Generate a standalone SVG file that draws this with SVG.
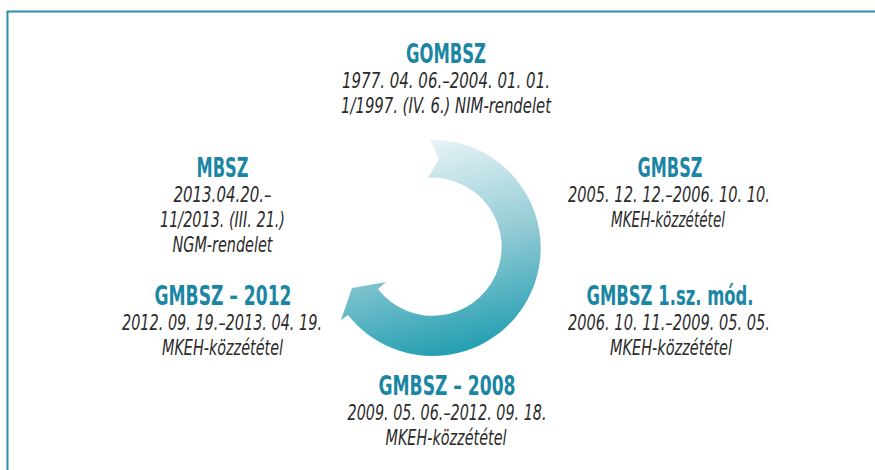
<svg xmlns="http://www.w3.org/2000/svg" width="875" height="470" viewBox="0 0 875 470">
<defs>
<linearGradient id="g" gradientUnits="userSpaceOnUse" x1="410" y1="140" x2="462" y2="356">
<stop offset="0" stop-color="#eaf5f7"/>
<stop offset="0.5" stop-color="#93cbd5"/>
<stop offset="1" stop-color="#1f9db0"/>
</linearGradient>
<style>
.t{font-family:"Liberation Sans Narrow","DejaVu Sans Condensed","Liberation Sans",sans-serif;font-weight:bold;font-size:27px;fill:#1a86a4;text-anchor:middle}
.b{font-family:"Liberation Sans Narrow","DejaVu Sans Condensed","Liberation Sans",sans-serif;font-style:italic;font-size:22px;fill:#2b2b2b;text-anchor:middle}
.frame{fill:none;stroke:#2a8fae;stroke-width:2}
</style>
</defs>
<rect width="875" height="470" fill="#fff"/>
<path class="frame" d="M875 11.5 H7.5 V470"/>
<g id="cycle">
<path d="M430 140 A108 108 0 1 1 348 315 L341 320 L352 288 L386 282 L378 289 A69 69 0 1 0 428 178 L439 159 Z" fill="url(#g)"/>
</g>
<g id="connectors"/>
<g id="gombsz">
<text class="t" x="446" y="63" textLength="80" lengthAdjust="spacingAndGlyphs">GOMBSZ</text>
<text class="b" x="446" y="88" textLength="208" lengthAdjust="spacingAndGlyphs">1977. 04. 06.–2004. 01. 01.</text>
<text class="b" x="446" y="113" textLength="210" lengthAdjust="spacingAndGlyphs">1/1997. (IV. 6.) NIM-rendelet</text>
</g>
<g id="mbsz">
<text class="t" x="222.5" y="176.5" textLength="52" lengthAdjust="spacingAndGlyphs">MBSZ</text>
<text class="b" x="222.5" y="201.5" textLength="98" lengthAdjust="spacingAndGlyphs">2013.04.20.–</text>
<text class="b" x="222.5" y="226.5" textLength="125" lengthAdjust="spacingAndGlyphs">11/2013. (III. 21.)</text>
<text class="b" x="222.5" y="251.5" textLength="100" lengthAdjust="spacingAndGlyphs">NGM-rendelet</text>
</g>
<g id="gmbsz">
<text class="t" x="670" y="176.5" textLength="65" lengthAdjust="spacingAndGlyphs">GMBSZ</text>
<text class="b" x="669" y="201.5" textLength="202" lengthAdjust="spacingAndGlyphs">2005. 12. 12.–2006. 10. 10.</text>
<text class="b" x="668" y="226.5" textLength="114" lengthAdjust="spacingAndGlyphs">MKEH-közzététel</text>
</g>
<g id="gmbsz-mod">
<text class="t" x="670" y="305" textLength="167" lengthAdjust="spacingAndGlyphs">GMBSZ 1.sz. mód.</text>
<text class="b" x="669" y="330" textLength="202" lengthAdjust="spacingAndGlyphs">2006. 10. 11.–2009. 05. 05.</text>
<text class="b" x="671" y="355" textLength="122" lengthAdjust="spacingAndGlyphs">MKEH-közzététel</text>
</g>
<g id="gmbsz-2012">
<text class="t" x="223" y="305" textLength="137" lengthAdjust="spacingAndGlyphs">GMBSZ – 2012</text>
<text class="b" x="222" y="330" textLength="200" lengthAdjust="spacingAndGlyphs">2012. 09. 19.–2013. 04. 19.</text>
<text class="b" x="222.5" y="355" textLength="121" lengthAdjust="spacingAndGlyphs">MKEH-közzététel</text>
</g>
<g id="gmbsz-2008">
<text class="t" x="447" y="395" textLength="137" lengthAdjust="spacingAndGlyphs">GMBSZ – 2008</text>
<text class="b" x="447" y="420" textLength="199" lengthAdjust="spacingAndGlyphs">2009. 05. 06.–2012. 09. 18.</text>
<text class="b" x="446" y="445" textLength="121" lengthAdjust="spacingAndGlyphs">MKEH-közzététel</text>
</g>
</svg>
